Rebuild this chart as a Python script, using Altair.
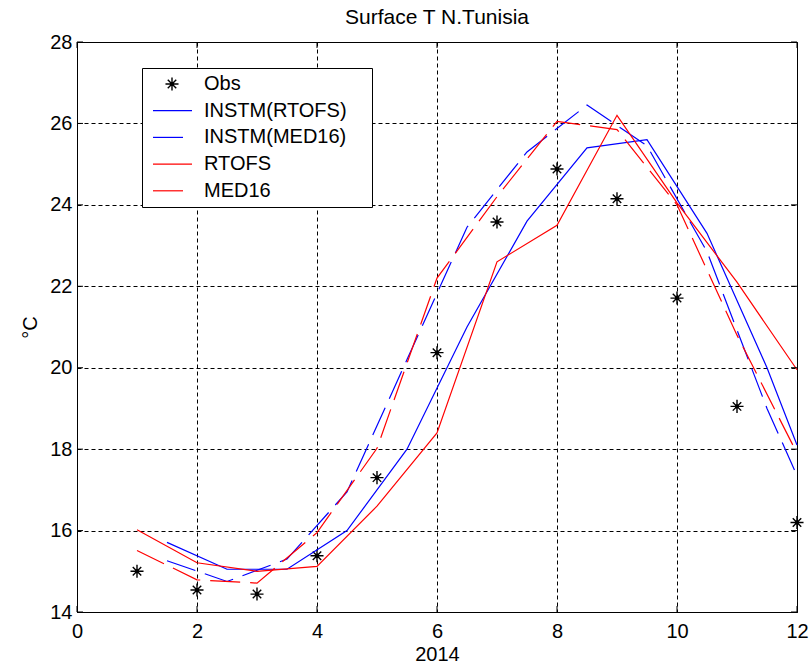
import altair as alt
import pandas as pd

# ---------------- data ----------------
MONTHS = [1, 2, 3, 4, 5, 6, 7, 8, 9, 10, 11, 12]
OBS = [15.0, 14.54, 14.44, 15.38, 17.30, 20.37, 23.58, 24.88, 24.15, 21.71, 19.05, 16.20]

X_MID = [1.5, 2.5, 3.5, 4.5, 5.5, 6.5, 7.5, 8.5, 9.5, 10.5, 11.5, 12.0]
INSTM_RTOFS = [15.71, 15.05, 15.05, 16.0, 18.0, 21.0, 23.6, 25.4, 25.6, 23.3, 20.0, 18.1]
INSTM_MED16 = [15.26, 14.75, 15.3, 16.95, 20.2, 23.45, 25.3, 26.45, 25.45, 22.85, 19.0, 17.35]

RTOFS = [16.02, 15.21, 15.0, 15.12, 16.6, 18.4, 22.6, 23.5, 26.2, 24.05, 22.1, 19.95]
MED16 = [15.51, 14.79, 14.71, 15.95, 18.02, 22.2, 24.2, 26.05, 25.85, 24.0, 20.8, 17.9]

X_TICKS = [0, 2, 4, 6, 8, 10, 12]
Y_TICKS = [14, 16, 18, 20, 22, 24, 26, 28]
SERIES = ["Obs", "INSTM(RTOFS)", "INSTM(MED16)", "RTOFS", "MED16"]

# ---------------- style ----------------
FONT = "Liberation Sans"
FS = 20
W, H = 720, 570
BLUE, RED = "#0000ff", "#ff0000"
DASH = [30, 10]
STAR = "M-1,0L1,0M0,-1L0,1M-0.65,-0.65L0.65,0.65M-0.65,0.65L0.65,-0.65"

XSCALE = alt.Scale(domain=[0, 12], nice=False, zero=False)
YSCALE = alt.Scale(domain=[14, 28], nice=False, zero=False)

XAXIS = alt.Axis(values=X_TICKS, title="2014", grid=True, ticks=False,
                 labelFlush=False, labelOverlap=False,
                 labelPadding=9, titlePadding=3)
YAXIS = alt.Axis(values=Y_TICKS, title="°C", grid=True, ticks=False,
                 labelFlush=False, labelOverlap=False,
                 labelPadding=5, titlePadding=9)


def xe():
    return alt.X("x:Q", scale=XSCALE, axis=XAXIS)


def ye():
    return alt.Y("y:Q", scale=YSCALE, axis=YAXIS)


layers = []

# observations
obs_df = pd.DataFrame({"x": MONTHS, "y": OBS})
layers.append(alt.Chart(obs_df).mark_point(shape=STAR, size=170, filled=False, color="black",
                                           strokeWidth=1.4, opacity=1)
              .encode(x=xe(), y=ye()))
layers.append(alt.Chart(obs_df).mark_point(shape="circle", size=18, filled=True, color="black",
                                           opacity=1).encode(x=xe(), y=ye()))

# model lines
line_specs = [
    (X_MID, INSTM_RTOFS, BLUE, False),
    (X_MID, INSTM_MED16, BLUE, True),
    (MONTHS, RTOFS, RED, False),
    (MONTHS, MED16, RED, True),
]
for xs, ys, col, dashed in line_specs:
    kw = dict(color=col, strokeWidth=1.2)
    if dashed:
        kw["strokeDash"] = DASH
    layers.append(alt.Chart(pd.DataFrame({"x": xs, "y": ys})).mark_line(**kw).encode(x=xe(), y=ye()))

# inward ticks on all four sides
xt = pd.DataFrame({"x": X_TICKS})
yt = pd.DataFrame({"y": Y_TICKS})
layers.append(alt.Chart(xt).mark_tick(orient="vertical", size=6, thickness=1, color="black", opacity=1)
              .encode(x=xe(), y=alt.value(H - 3)))
layers.append(alt.Chart(xt).mark_tick(orient="vertical", size=6, thickness=1, color="black", opacity=1)
              .encode(x=xe(), y=alt.value(3)))
layers.append(alt.Chart(yt).mark_tick(orient="horizontal", size=6, thickness=1, color="black", opacity=1)
              .encode(y=ye(), x=alt.value(3)))
layers.append(alt.Chart(yt).mark_tick(orient="horizontal", size=6, thickness=1, color="black", opacity=1)
              .encode(y=ye(), x=alt.value(W - 3)))

# legend (manual, MATLAB style)
dummy = pd.DataFrame({"k": [0]})
LX0, LX1, LY0, LY1 = 65.5, 295.5, 26.5, 165.5
layers.append(alt.Chart(dummy).mark_rect(fill="white", stroke="black", strokeWidth=1)
              .encode(x=alt.value(LX0), x2=alt.value(LX1), y=alt.value(LY0), y2=alt.value(LY1)))
ROW0, STEP = 42.0, 26.7
leg_styles = [None, (BLUE, False), (BLUE, True), (RED, False), (RED, True)]
for i, (name, st) in enumerate(zip(SERIES, leg_styles)):
    yy = ROW0 + i * STEP
    if st is None:
        layers.append(alt.Chart(dummy).mark_point(shape=STAR, size=170, filled=False, color="black",
                                                  strokeWidth=1.4, opacity=1)
                      .encode(x=alt.value(95), y=alt.value(yy)))
        layers.append(alt.Chart(dummy).mark_point(shape="circle", size=18, filled=True, color="black",
                                                  opacity=1)
                      .encode(x=alt.value(95), y=alt.value(yy)))
    else:
        col, dashed = st
        layers.append(alt.Chart(dummy).mark_rule(color=col, strokeWidth=1.2)
                      .encode(x=alt.value(76), x2=alt.value(106 if dashed else 115), y=alt.value(yy)))
    layers.append(alt.Chart(dummy).mark_text(align="left", baseline="middle", font=FONT, fontSize=FS,
                                             color="black")
                  .encode(x=alt.value(127), y=alt.value(yy), text=alt.value(name)))

chart = alt.layer(*layers).properties(
    width=W, height=H,
    padding={"left": 77, "top": 42, "right": 15, "bottom": 59},
    autosize=alt.AutoSizeParams(type="none"),
    background="white",
    title=alt.TitleParams("Surface T N.Tunisia", font=FONT, fontSize=21, fontWeight="normal",
                          color="black", offset=4, anchor="middle"),
).configure_view(
    stroke="black", strokeWidth=1
).configure_axis(
    gridColor="black", gridDash=[4, 3], gridWidth=1, gridOpacity=1,
    domainColor="black", domainWidth=1,
    labelFont=FONT, labelFontSize=FS, labelColor="black",
    titleFont=FONT, titleFontSize=FS, titleColor="black", titleFontWeight="normal",
)

chart.save("out.html", embed_options={"renderer": "svg", "actions": False})
